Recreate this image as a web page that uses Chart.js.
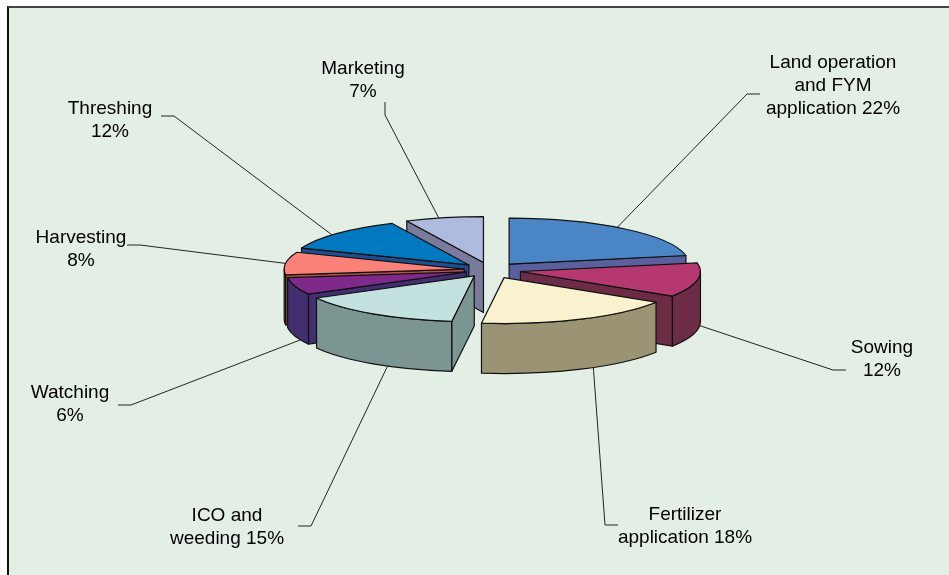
<!DOCTYPE html>
<html>
<head>
<meta charset="utf-8">
<script src="https://cdn.jsdelivr.net/npm/chart.js@4"></script>
<style>
html,body{margin:0;padding:0;background:#fff;width:949px;height:575px;overflow:hidden}
#panel{position:absolute;left:7px;top:6px;right:0;bottom:0;background:#E3EEE5;border-left:2px solid #111;border-top:2px solid #444}
#wrap{position:absolute;left:0;top:0;width:949px;height:575px}
</style>
</head>
<body>
<div id="panel"></div>
<div id="wrap"><canvas id="c"></canvas></div>
<script>
const categories = ['Land operation and FYM application','Sowing','Fertilizer application','ICO and weeding','Watching','Harvesting','Threshing','Marketing'];
const shares = [22,12,18,15,6,8,12,7];
const labelLines = [
  ['Land operation','and FYM','application 22%'],
  ['Sowing','12%'],
  ['Fertilizer','application 18%'],
  ['ICO and','weeding 15%'],
  ['Watching','6%'],
  ['Harvesting','8%'],
  ['Threshing','12%'],
  ['Marketing','7%']
];
const topColors  = ['#4A86C5','#B53870','#FAF2CF','#C3E2DF','#7F2A8A','#FB8278','#0079C1','#AEBBDF'];
const wallColors = ['#5A609E','#6C2C46','#9B9474','#7A9592','#412F6F','#B3534F','#1E4E90','#7A7B9C'];

const look = {
  squash: 0.255, depth: 50, lineColor: '#111',
  explode: [30,31,33,28,25,26,29,30],
  paintOrder: [7,0,6,5,1,4,2,3],
  font: '19px "Liberation Sans", Arial, sans-serif', lineHeight: 23,
  labelPos: [[833,63],[882,348],[685,515],[227,516],[70,393],[81,238],[110,109],[363,69]],
  elbow: [[747,94,760],[833,370,846],[605,525,618],[311,526,298],[131,405,118],[140,245,127],[174,116,161],[385,115,385]],
  anchorFrac: [0.466,0.37,0.43,0.40,0.27,0.5,0.44,0.43]
};

const pie3d = {
  id: 'pie3d',
  beforeDatasetsDraw(chart) {
    const ctx = chart.ctx, arcs = chart.getDatasetMeta(0).data, k = look.squash, D = look.depth;
    const shift = (a, i) => {
      const m = (a.startAngle + a.endAngle) / 2;
      return [Math.cos(m) * look.explode[i], Math.sin(m) * look.explode[i] * k];
    };
    const ptOn = (a, i, th, R) => {
      const [ox, oy] = shift(a, i);
      return [a.x + ox + Math.cos(th) * R, a.y + oy + Math.sin(th) * R * k];
    };
    ctx.save();
    ctx.lineWidth = 1.2; ctx.strokeStyle = look.lineColor; ctx.lineJoin = 'round';
    look.paintOrder.forEach(i => {
      const a = arcs[i], R = a.outerRadius, s = a.startAngle, e = a.endAngle;
      const [ox, oy] = shift(a, i), cx = a.x + ox, cy = a.y + oy;
      ctx.fillStyle = wallColors[i];
      const wall = th => {
        const p = ptOn(a, i, th, R);
        ctx.beginPath();
        ctx.moveTo(cx, cy); ctx.lineTo(p[0], p[1]); ctx.lineTo(p[0], p[1] + D); ctx.lineTo(cx, cy + D);
        ctx.closePath(); ctx.fill(); ctx.stroke();
      };
      if (Math.cos(s) < -1e-6) wall(s);
      if (Math.cos(e) > 1e-6) wall(e);
      // outer curved wall, lower half only
      const lo = Math.max(s, 0), hi = Math.min(e, Math.PI);
      if (lo < hi) {
        ctx.beginPath();
        ctx.save(); ctx.translate(cx, cy); ctx.scale(1, k); ctx.arc(0, 0, R, lo, hi); ctx.restore();
        ctx.save(); ctx.translate(cx, cy + D); ctx.scale(1, k); ctx.arc(0, 0, R, hi, lo, true); ctx.restore();
        ctx.closePath(); ctx.fill(); ctx.stroke();
      }
      // top face: the library's own arc element, squashed
      ctx.save();
      ctx.translate(ox, oy);
      ctx.translate(a.x, a.y); ctx.scale(1, k); ctx.translate(-a.x, -a.y);
      a.draw(ctx);
      ctx.restore();
      ctx.beginPath();
      ctx.save(); ctx.translate(cx, cy); ctx.scale(1, k);
      ctx.moveTo(0, 0); ctx.arc(0, 0, R, s, e); ctx.closePath(); ctx.restore();
      ctx.stroke();
    });
    // leader lines and labels
    ctx.lineWidth = 1; ctx.strokeStyle = '#222';
    arcs.forEach((a, i) => {
      const th = a.startAngle + (a.endAngle - a.startAngle) * look.anchorFrac[i];
      const p = ptOn(a, i, th, a.outerRadius);
      const y0 = p[1] + (Math.sin(th) > 0 ? D : 0);
      const el = look.elbow[i];
      ctx.beginPath();
      ctx.moveTo(p[0], y0); ctx.lineTo(el[0], el[1]);
      if (i === 7) ctx.lineTo(el[2], el[1] - 13); else ctx.lineTo(el[2], el[1]);
      ctx.stroke();
    });
    ctx.fillStyle = '#000'; ctx.font = look.font; ctx.textAlign = 'center'; ctx.textBaseline = 'middle';
    labelLines.forEach((lines, i) => {
      lines.forEach((t, j) => ctx.fillText(t, look.labelPos[i][0], look.labelPos[i][1] + j * look.lineHeight));
    });
    ctx.restore();
    return false;
  }
};

new Chart(document.getElementById('c'), {
  type: 'pie',
  data: { labels: categories, datasets: [{ data: shares, backgroundColor: topColors, borderWidth: 0 }] },
  options: {
    responsive: true, maintainAspectRatio: false, animation: false,
    radius: 180,
    layout: { padding: { left: 31, right: 0, top: 0, bottom: 35 } },
    plugins: { legend: { display: false }, tooltip: { enabled: false } }
  },
  plugins: [pie3d]
});
</script>
</body>
</html>
